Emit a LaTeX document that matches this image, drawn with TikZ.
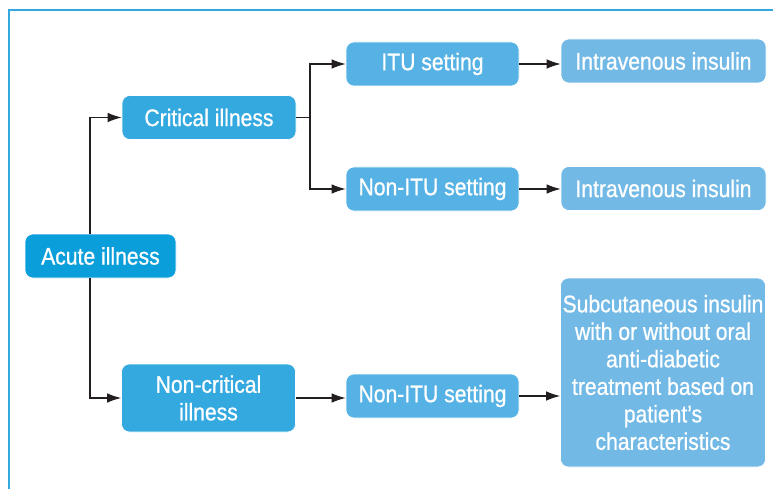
\documentclass[tikz,border=0pt]{standalone}
\usepackage{fontspec}
\setmainfont{Liberation Sans}[FakeStretch=0.88,FakeBold=0.8]
\usepackage{tikz}
\usetikzlibrary{arrows.meta,positioning,calc}
\definecolor{acuteblue}{RGB}{10,158,218}
\definecolor{illblue}{RGB}{51,169,224}
\definecolor{setblue}{RGB}{86,178,228}
\definecolor{careblue}{RGB}{114,185,230}
\definecolor{frameblue}{RGB}{53,168,224}
\definecolor{arrowgray}{RGB}{35,31,32}

\begin{document}
\begin{tikzpicture}[x=1pt,y=-1pt,
  box/.style={draw=white,line width=0.6pt,rounded corners=8pt,text=white,align=center,
    font=\fontsize{24}{27.5}\selectfont,inner sep=1pt},
  acute/.style={box,fill=acuteblue,minimum width=151pt,minimum height=44pt},
  illness/.style={box,fill=illblue,minimum width=174pt,minimum height=44pt},
  setting/.style={box,fill=setblue,minimum width=173pt,minimum height=44pt},
  care/.style={box,fill=careblue,minimum width=205pt,minimum height=44pt},
  arrow/.style={-{Latex[length=14pt,width=9.5pt]},line width=1.1pt,draw=arrowgray}
]
\useasboundingbox (0,0) rectangle (773,489);
\draw[frameblue,line width=1.6pt] (9,489) -- (9,10) -- (773,10);
\node[acute] (acute) at (100.5,256) {Acute illness};
\node[illness] (critical) at (209,117.5) {Critical illness};
\node[illness,minimum height=68pt] (noncritical) at (208.5,398) {Non-critical\\illness};
\node[setting] (itu) at (432.5,64) {ITU setting};
\node[setting] (nonitu) at (432.5,189) {Non-ITU setting};
\node[setting] (ward) at (432.5,396) {Non-ITU setting};
\node[care] (ivitu) at (663.5,61) {Intravenous insulin};
\node[care] (ivward) at (663.5,188.5) {Intravenous insulin};
\node[care,minimum height=189pt] (subcut) at (663,372.5)
  {Subcutaneous insulin\\with or without oral\\anti-diabetic\\treatment based on\\patient’s\\characteristics};
\coordinate (fork) at (310,117.5);
\draw[arrow] ([xshift=-10.5pt]acute.north) |- (critical.west);
\draw[arrow] ([xshift=-10.5pt]acute.south) |- (noncritical.west);
\draw[line width=1.1pt,arrowgray] (critical.east) -- (fork);
\draw[arrow] (fork) |- (itu.west);
\draw[arrow] (fork) |- (nonitu.west);
\draw[arrow] (itu.east) -- (itu.east -| ivitu.west);
\draw[arrow] (nonitu.east) -- (nonitu.east -| ivward.west);
\draw[arrow] (noncritical.east) -- (noncritical.east -| ward.west);
\draw[arrow] (ward.east) -- (ward.east -| subcut.west);
\end{tikzpicture}
\end{document}
